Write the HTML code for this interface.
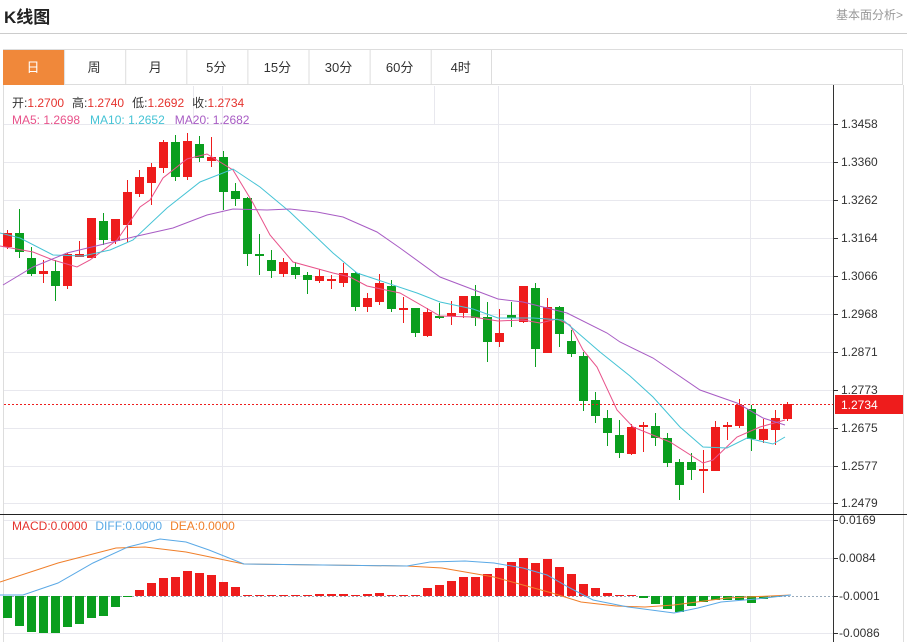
<!DOCTYPE html>
<html><head><meta charset="utf-8"><style>
body{margin:0;width:907px;height:642px;overflow:hidden;background:#fff;font-family:"Liberation Sans","Noto Sans CJK SC",sans-serif;position:relative}
.t{position:absolute;white-space:nowrap}
</style></head><body>
<div class="t" style="left:4px;top:3px;font-size:17px;font-weight:bold;color:#222">K线图</div>
<div class="t" style="left:836px;top:6px;font-size:12px;color:#999">基本面分析&gt;</div>
<div style="position:absolute;left:0;top:33px;width:907px;height:1px;background:#ccc"></div>
<svg id="s" width="907" height="642" style="position:absolute;left:0;top:0" xmlns="http://www.w3.org/2000/svg"></svg>
<script>
var s=document.getElementById('s'),h='';
function L(x1,y1,x2,y2,c,w,d){h+='<line x1="'+x1+'" y1="'+y1+'" x2="'+x2+'" y2="'+y2+'" stroke="'+c+'" stroke-width="'+(w||1)+'"'+(d?' stroke-dasharray="'+d+'"':'')+'/>';}
function R(x,y,w,hh,c,st){h+='<rect x="'+x+'" y="'+y+'" width="'+w+'" height="'+hh+'" fill="'+c+'"'+(st?' stroke="'+st+'"':'')+'/>';}
function T(x,y,t,c,sz,a){h+='<text x="'+x+'" y="'+y+'" fill="'+c+'" font-size="'+(sz||12)+'"'+(a?' text-anchor="'+a+'"':'')+'>'+t+'</text>';}
function P(pts,c,w){h+='<polyline fill="none" stroke="'+c+'" stroke-width="'+(w||1)+'" points="'+pts+'"/>';}
// tabs
R(3.5,49.5,899,35,'#fff','#ddd');
var tabs=['日','周','月','5分','15分','30分','60分','4时'];
for(var i=0;i<8;i++){var x=3+i*61.1;if(i==0)R(3,50,61,35,'#f0883a');else L(x+.5,50,x+.5,85,'#ddd');T(x+30,72,tabs[i],i==0?'#fff':'#333',13,'middle');}
L(491.5,50,491.5,85,'#ddd');
// chart frame
L(3.5,85,3.5,642,'#ddd');L(903.5,85,903.5,642,'#ddd');
L(833.5,85,833.5,642,'#333');
var py=[124,162,200,238,276,314,352,390,428,466,503],pl=['1.3458','1.3360','1.3262','1.3164','1.3066','1.2968','1.2871','1.2773','1.2675','1.2577','1.2479'];
for(i=0;i<py.length;i++){L(4,py[i]+.5,833,py[i]+.5,'#e8e8ee');L(833,py[i]+.5,838,py[i]+.5,'#333');T(841,py[i]+4,pl[i],'#333',12);}
[222,498,750].forEach(function(x){L(x+.5,86,x+.5,642,'#e8e8ee');});
L(193.5,86,193.5,124,'#e8e8ee');L(434.5,86,434.5,124,'#e8e8ee');
// candles [color,bt,bb,wt,wb]
var C=[['r',233,247,230,249],['g',233,252,209,258],['g',258,274,247,276],['r',271,274,260,283],['g',271,286,260,301],['r',254,286,253,289],['r',254,257,241,257],['r',218,258,218,258],['g',221,240,213,245],['r',219,241,219,244],
['r',192,225,180,242],['r',177,194,170,197],['r',167,183,163,205],['r',142,168,140,173],['g',142,177,135,181],['r',141,177,133,180],['g',144,158,136,162],['r',157,161,137,167],['g',157,192,151,210],['g',191,199,183,206],
['g',198,254,197,266],['g',254,256,234,275],['g',260,271,250,278],['r',262,274,258,277],['g',267,275,262,279],['g',275,280,272,294],['r',276,281,269,283],['r',279,281,275,289],['r',273,283,263,287],['g',273,307,272,311],
['r',298,307,293,312],['r',283,302,274,305],['g',286,309,280,312],['r',308,310,297,323],['g',308,333,308,337],['r',312,336,308,337],['g',316,318,303,319],['r',313,316,301,325],['r',296,313,296,318],['g',296,318,285,326],
['g',317,342,302,362],['r',333,342,309,347],['g',315,318,302,327],['r',286,322,286,323],['g',288,349,283,367],['r',307,353,298,353],['g',307,334,306,347],['g',341,354,330,357],['g',356,401,352,411],['g',400,416,392,423],
['g',418,433,410,446],['g',435,453,420,458],['r',427,454,424,455],['r',425,427,422,452],['g',426,438,413,446],['g',438,463,433,467],['g',462,485,459,500],['g',462,470,453,480],['r',469,471,450,493],['r',427,471,421,471],
['r',425,427,422,440],['r',405,426,399,428],['g',409,439,405,451],['r',429,440,419,443],['r',418,430,410,445],['r',404,419,402,421]];
for(i=0;i<C.length;i++){var c=C[i],x=7+i*12,col=c[0]=='r'?'#ee1c1c':'#0a9e1e';L(x+.5,c[3],x+.5,c[4],col);R(x-4,c[1],9,Math.max(2,c[2]-c[1]),col);}
P('0,246 33,252 53,260 77,267 90,260 117,240 140,207 150,200 163,178 187,159 207,154 233,170 253,203 270,235 293,262 333,273 350,277 367,286 400,293 440,316 473,317 498,321 523,320 540,323 557,319 570,325 583,350 597,367 617,410 633,427 670,442 703,463 713,460 737,437 760,427 785,420','#e8528a');
P('0,233 20,238 53,255 83,256 110,250 133,240 167,208 200,182 233,169 260,187 290,212 333,253 357,273 417,293 440,302 473,309 498,318 533,318 563,320 600,352 630,376 653,397 680,427 703,447 727,448 747,438 773,444 785,437','#45c3d5');
P('3,285 33,267 67,253 100,245 133,237 173,228 207,215 233,209 267,210 290,209 317,212 343,217 377,232 400,248 440,277 498,299 523,302 567,313 607,333 620,342 653,358 700,390 737,403 763,418 785,425','#a85cc4');
// current price
L(4,404.5,833,404.5,'#ee1c1c',1,'2,2');R(835,395,68,19,'#ee1c1c');T(841,409,'1.2734','#fff',12);
// info text
h+='<text x="12" y="107" font-size="12"><tspan fill="#333">开:</tspan><tspan fill="#e5322d">1.2700</tspan><tspan fill="#333" dx="8">高:</tspan><tspan fill="#e5322d">1.2740</tspan><tspan fill="#333" dx="8">低:</tspan><tspan fill="#e5322d">1.2692</tspan><tspan fill="#333" dx="8">收:</tspan><tspan fill="#e5322d">1.2734</tspan></text>';
h+='<text x="12" y="124" font-size="12"><tspan fill="#e8528a">MA5: 1.2698</tspan><tspan fill="#45c3d5" dx="10">MA10: 1.2652</tspan><tspan fill="#a85cc4" dx="10">MA20: 1.2682</tspan></text>';
// MACD panel
L(0,514.5,907,514.5,'#222');
var my=[520,558,596,633],ml=['0.0169','0.0084','-0.0001','-0.0086'];
for(i=0;i<4;i++){if(i!=2)L(4,my[i]+.5,833,my[i]+.5,'#e8e8ee');L(833,my[i]+.5,838,my[i]+.5,'#333');T(839,my[i]+4,ml[i],'#333',12);}
L(4,596.5,833,596.5,'#9ab',1,'2,2');
var M=[618,626,632,633,633,627,624,618,616,607,597,590,583,578,577,571,573,575,582,587,595,595,595,595,595,595,594,594,594,595,594,593,595,595,595,588,585,581,577,577,574,568,562,558,563,559,567,574,584,588,593,595,595,598,604,609,612,606,602,600,600,600,603,599,597,596];
for(i=0;i<M.length;i++){var x=7+i*12,y=M[i];if(y>596)R(x-4,596,9,y-596,'#0a9e1e');else if(y<596)R(x-4,y,9,596-y,'#ee1c1c');}
P('0,582 58,563 116,548 145,547 186,552 244,564 407,566 442,568 494,577 523,585 552,593 581,602 616,606 645,607 674,605 727,598 791,595','#f07f2a');
P('0,595 23,595 58,583 93,563 128,547 160,539 186,542 209,550 244,564 407,566 430,562 465,561 494,563 523,568 547,575 570,588 593,600 628,607 674,613 698,608 721,602 756,599 791,595','#5aa9e6');
h+='<text x="12" y="530" font-size="12"><tspan fill="#e5322d">MACD:0.0000</tspan><tspan fill="#5aa9e6" dx="8">DIFF:0.0000</tspan><tspan fill="#f07f2a" dx="8">DEA:0.0000</tspan></text>';
s.innerHTML=h;
</script>
</body></html>
